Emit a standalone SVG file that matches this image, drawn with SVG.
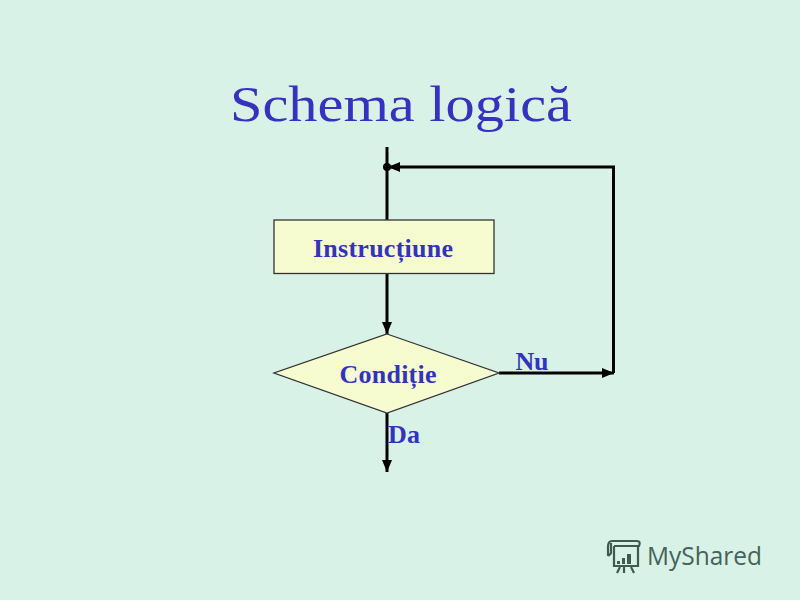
<svg xmlns="http://www.w3.org/2000/svg" width="800" height="600" viewBox="0 0 800 600">
<style>
.bg{fill:#d8f2e7}
.node{fill:#f6fbd0;stroke:#333;stroke-width:1.3}
.t{font-family:"Liberation Serif",serif;fill:#3333c0;font-weight:bold;font-size:26px;text-anchor:middle}
.c{fill:none;stroke:#000;stroke-width:3}
.logo{fill:none;stroke:#3f5a52;stroke-width:2.2}
</style>
<defs>
<marker id="a" markerUnits="userSpaceOnUse" markerWidth="14" markerHeight="12" refX="12" refY="5" orient="auto"><path d="M0 0L12 5L0 10Z" fill="#000"/></marker>
</defs>
<rect class="bg" width="800" height="600"/>
<text id="title" x="401" y="121" style="font-family:'Liberation Serif',serif;font-size:51px;fill:#3333c0;text-anchor:middle" textLength="342" lengthAdjust="spacingAndGlyphs">Schema logică</text>
<g id="connectors">
<path class="c" d="M387 147V220"/>
<path class="c" d="M387 274V334" marker-end="url(#a)"/>
<path class="c" d="M387 413V472" marker-end="url(#a)"/>
<path class="c" d="M499 373H614" marker-end="url(#a)"/>
<path class="c" d="M613.500 373V167H388" marker-end="url(#a)"/>
<circle cx="387" cy="167" r="4" fill="#000"/>
</g>
<g id="instructiune">
<rect class="node" x="274" y="220" width="220" height="53.500"/>
<text class="t" x="383" y="257" textLength="140" lengthAdjust="spacing">Instrucțiune</text>
</g>
<g id="conditie">
<path class="node" d="M387 334L499 373L387 413L274 373Z"/>
<text class="t" x="388" y="383" textLength="97" lengthAdjust="spacing">Condiție</text>
</g>
<text id="nu" class="t" x="532" y="370" textLength="33" lengthAdjust="spacing">Nu</text>
<text id="da" class="t" x="404" y="443" textLength="32" lengthAdjust="spacing">Da</text>
<g id="logo">
<path class="logo" d="M612 541H637Q641 541 639 546H614M612 541Q608 541 608 547V555Q609 556 611 553V543M614 546V566H638V546M620 567L617 573M624 567V573M631 567L634 573"/>
<path d="M617 561h3v3h-3zM622 558h3v6h-3zM627 554h4v10h-4z" fill="#3f5a52"/>
<text x="704.500" y="565" style="font-family:'Open Sans',sans-serif;font-size:26px;fill:#46625a;text-anchor:middle" textLength="115" lengthAdjust="spacingAndGlyphs">MyShared</text>
</g>
</svg>
